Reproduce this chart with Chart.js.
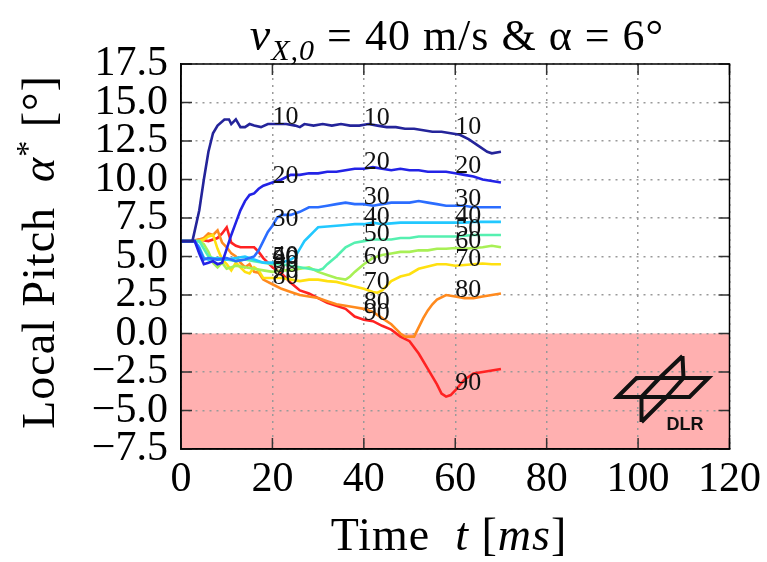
<!DOCTYPE html>
<html>
<head>
<meta charset="utf-8">
<script src="https://cdn.jsdelivr.net/npm/chart.js@4"></script>
<style>
  body { margin: 0; background: #fff; }
</style>
</head>
<body>
<canvas id="pitchChart" width="767" height="562"></canvas>
<script>
// local pitch traces per span position, time in ms
var t10 = [0, 2.5, 4, 5, 6, 7, 8, 9.5, 10.5, 11, 12, 13, 14, 15, 16, 17.5, 19, 21, 23, 25, 26, 27, 29, 31, 33, 35, 37, 39, 41, 43, 45, 47, 49, 51, 53, 55, 57, 59, 61, 63, 65, 67, 68, 70];
var a10 = [6, 6, 8, 10, 11.8, 13, 13.5, 13.9, 13.9, 13.6, 13.9, 13.4, 13.4, 13.6, 13.5, 13.4, 13.6, 13.6, 13.6, 13.5, 13.4, 13.6, 13.5, 13.6, 13.5, 13.6, 13.5, 13.5, 13.6, 13.5, 13.4, 13.4, 13.3, 13.3, 13.2, 13.1, 13.1, 13.0, 12.9, 12.6, 12.2, 11.8, 11.7, 11.8];

var t20 = [0, 3, 4, 5, 6, 7, 8, 9, 10, 11, 12, 13, 14, 15, 16, 17, 18, 20, 22, 24, 26, 28, 30, 32, 34, 36, 38, 40, 42, 44, 46, 48, 50, 52, 54, 56, 58, 60, 62, 64, 66, 68, 70];
var a20 = [6, 6, 5.2, 4.5, 4.6, 4.7, 4.5, 4.6, 5.5, 6.4, 7.2, 8.0, 8.6, 9.0, 9.1, 9.4, 9.6, 9.8, 10.0, 10.3, 10.3, 10.4, 10.4, 10.5, 10.5, 10.6, 10.7, 10.7, 10.8, 10.7, 10.6, 10.7, 10.6, 10.6, 10.5, 10.5, 10.5, 10.4, 10.3, 10.2, 10.0, 9.9, 9.8];

var t30 = [0, 3, 4, 5, 6, 8, 10, 12, 14, 16, 17, 18, 19, 20, 21, 22, 24, 26, 28, 30, 32, 34, 36, 38, 40, 42, 44, 46, 48, 50, 52, 54, 56, 58, 60, 62, 64, 66, 68, 70];
var a30 = [6, 6, 5.5, 4.8, 4.9, 4.8, 4.9, 4.7, 4.8, 5.0, 5.4, 6.0, 6.6, 7.0, 7.5, 7.7, 7.7, 7.9, 8.2, 8.2, 8.3, 8.4, 8.5, 8.4, 8.4, 8.3, 8.4, 8.5, 8.5, 8.5, 8.6, 8.5, 8.4, 8.3, 8.3, 8.3, 8.2, 8.2, 8.2, 8.2];

var t40 = [0, 3, 4, 5, 6, 8, 10, 12, 14, 16, 18, 20, 22, 24, 25, 26, 27, 28, 29, 30, 32, 34, 36, 38, 40, 42, 44, 46, 48, 50, 52, 54, 56, 58, 60, 62, 64, 66, 68, 70];
var a40 = [6, 6, 5.6, 4.9, 4.8, 4.9, 4.8, 4.9, 5.0, 4.8, 4.6, 4.6, 4.6, 4.8, 5.0, 5.5, 6.0, 6.3, 6.6, 6.9, 6.95, 7.0, 7.05, 7.1, 7.1, 7.2, 7.1, 7.15, 7.2, 7.2, 7.2, 7.2, 7.2, 7.2, 7.2, 7.2, 7.25, 7.25, 7.25, 7.25];

var t50 = [0, 4, 5, 6, 8, 10, 12, 14, 16, 18, 20, 22, 24, 26, 28, 30, 31, 32, 34, 36, 38, 40, 42, 44, 46, 48, 50, 52, 54, 56, 58, 60, 62, 64, 66, 68, 70];
var a50 = [6, 6, 5.5, 5.0, 4.8, 4.8, 4.7, 4.8, 4.7, 4.6, 4.5, 4.5, 4.4, 4.3, 4.2, 4.1, 4.2, 4.5, 5.0, 5.6, 5.9, 6.0, 6.1, 6.1, 6.1, 6.2, 6.2, 6.3, 6.3, 6.3, 6.3, 6.3, 6.35, 6.4, 6.4, 6.4, 6.4];

var t60 = [0, 4, 5, 6, 7, 8, 9, 10, 12, 14, 16, 18, 20, 22, 24, 26, 28, 30, 32, 34, 36, 37, 38, 40, 42, 44, 46, 48, 50, 52, 54, 56, 58, 60, 62, 64, 66, 68, 70];
var a60 = [6, 6, 5.8, 5.3, 4.6, 4.3, 4.6, 4.2, 4.4, 4.3, 4.2, 4.1, 4.0, 4.1, 4.1, 4.2, 4.3, 4.0, 3.8, 3.6, 3.5, 3.7, 4.0, 4.5, 4.9, 5.1, 5.2, 5.3, 5.3, 5.4, 5.4, 5.5, 5.5, 5.55, 5.5, 5.55, 5.6, 5.7, 5.6];

var t70 = [0, 4, 5, 6, 7, 8, 9, 10, 11, 12, 13, 14, 15, 16, 17, 18, 20, 22, 24, 26, 28, 30, 32, 34, 36, 38, 40, 42, 43, 44, 45, 46, 48, 50, 52, 54, 56, 58, 60, 62, 64, 66, 68, 70];
var a70 = [6, 6, 6.1, 6.3, 6.4, 5.5, 4.8, 4.5, 4.1, 4.6, 4.3, 4.0, 3.9, 4.3, 4.1, 3.6, 3.6, 3.6, 3.5, 3.4, 3.5, 3.5, 3.4, 3.35, 3.2, 3.05, 2.9, 2.7, 2.65, 2.8, 3.1, 3.4, 3.7, 3.85, 4.2, 4.35, 4.5, 4.5, 4.4, 4.45, 4.5, 4.55, 4.5, 4.5];

var t80 = [0, 3, 5, 6, 7, 8, 9, 10, 11, 12, 13, 14, 15, 16, 17, 18, 20, 22, 24, 26, 28, 30, 32, 34, 36, 38, 40, 42, 44, 46, 47, 48, 49, 50, 51, 52, 53, 54, 55, 56, 58, 60, 62, 64, 66, 68, 70];
var a80 = [6, 6, 6.2, 6.5, 6.4, 6.7, 5.9, 5.6, 5.2, 5.0, 4.6, 4.3, 4.5, 4.0, 3.95, 3.5, 3.2, 2.9, 2.7, 2.5, 2.4, 2.3, 2.1, 1.9, 1.8, 1.7, 1.6, 1.4, 1.0, 0.6, 0.3, 0.0, -0.2, -0.2, -0.2, 0.4, 1.0, 1.5, 1.9, 2.2, 2.5, 2.4, 2.3, 2.3, 2.4, 2.5, 2.6];

var t90 = [0, 2, 4, 6, 8, 9, 10, 11, 12, 13, 14, 15, 16, 17, 18, 19, 20, 22, 24, 26, 28, 30, 32, 34, 36, 38, 40, 42, 44, 46, 48, 50, 52, 54, 56, 57, 58, 59, 60, 62, 64, 66, 68, 70];
var a90 = [6, 6, 6.1, 6.0, 6.2, 6.5, 6.9, 5.9, 5.7, 5.6, 5.6, 5.6, 5.6, 5.3, 4.9, 4.6, 4.3, 3.9, 3.3, 2.8, 2.6, 2.3, 2.0, 1.8, 1.6, 1.1, 0.9, 0.8, 0.5, 0.25, -0.2, -0.5, -1.3, -2.3, -3.3, -3.9, -4.1, -4.0, -3.7, -3.0, -2.6, -2.5, -2.4, -2.3];

var seriesNames = ['10', '20', '30', '40', '50', '60', '70', '80', '90'];
var seriesTimes = [t10, t20, t30, t40, t50, t60, t70, t80, t90];
var seriesPitch = [a10, a20, a30, a40, a50, a60, a70, a80, a90];
var seriesColors = ['#24249a', '#2323e6', '#2b6dff', '#22c8ff', '#55f0b0', '#a8f055', '#ffe010', '#ff8a1e', '#ff2222'];
var labelTimes = [20, 40, 60];

var serif = '"Liberation Serif", "DejaVu Serif", serif';

var datasets = [];
for (var i = 0; i < seriesNames.length; i++) {
    var pts = [];
    for (var j = 0; j < seriesTimes[i].length; j++) {
        pts.push({ x: seriesTimes[i][j], y: seriesPitch[i][j] });
    }
    datasets.push({
        label: seriesNames[i],
        data: pts,
        borderColor: seriesColors[i],
        borderWidth: 2.6,
        pointRadius: 0,
        tension: 0,
        fill: false
    });
}

function valueAt(data, x) {
    for (var k = 1; k < data.length; k++) {
        if (data[k].x >= x) {
            var a = data[k - 1], b = data[k];
            return a.y + (b.y - a.y) * (x - a.x) / (b.x - a.x);
        }
    }
    return data[data.length - 1].y;
}

// pink band for negative pitch, under the grid
var negativeBand = {
    id: 'negativeBand',
    beforeDraw: function (chart) {
        var ctx = chart.ctx, area = chart.chartArea;
        var y0 = chart.scales.y.getPixelForValue(0);
        ctx.save();
        ctx.fillStyle = '#ffb0b0';
        ctx.fillRect(area.left, y0, area.right - area.left, area.bottom - y0);
        ctx.restore();
    }
};

// frame, inward ticks and the span labels on the curves
var frameAndLabels = {
    id: 'frameAndLabels',
    afterDatasetsDraw: function (chart) {
        var ctx = chart.ctx, area = chart.chartArea;
        var xs = chart.scales.x, ys = chart.scales.y;
        ctx.save();

        ctx.font = '26px ' + serif;
        ctx.fillStyle = '#111';
        ctx.textAlign = 'left';
        ctx.textBaseline = 'alphabetic';
        chart.data.datasets.forEach(function (ds) {
            labelTimes.forEach(function (lt) {
                var v = valueAt(ds.data, lt);
                ctx.fillText(ds.label, xs.getPixelForValue(lt), ys.getPixelForValue(v));
            });
        });

        ctx.strokeStyle = '#333';
        ctx.lineWidth = 1.5;
        ctx.beginPath();
        ys.ticks.forEach(function (tk) {
            var py = ys.getPixelForValue(tk.value);
            ctx.moveTo(area.left, py); ctx.lineTo(area.left + 11, py);
            ctx.moveTo(area.right, py); ctx.lineTo(area.right - 11, py);
        });
        xs.ticks.forEach(function (tk) {
            var px = xs.getPixelForValue(tk.value);
            ctx.moveTo(px, area.top); ctx.lineTo(px, area.top + 11);
            ctx.moveTo(px, area.bottom); ctx.lineTo(px, area.bottom - 11);
        });
        ctx.stroke();

        ctx.strokeStyle = '#000';
        ctx.lineWidth = 1.5;
        ctx.strokeRect(area.left, area.top, area.right - area.left, area.bottom - area.top);
        ctx.restore();
    }
};

function drawParts(ctx, parts, x, y) {
    parts.forEach(function (p) {
        ctx.font = p.font;
        ctx.fillText(p.text, x, y + (p.dy || 0));
        x += ctx.measureText(p.text).width;
    });
}

function partsWidth(ctx, parts) {
    var w = 0;
    parts.forEach(function (p) {
        ctx.font = p.font;
        w += ctx.measureText(p.text).width;
    });
    return w;
}

// title, axis titles and the DLR mark
var textAndLogo = {
    id: 'textAndLogo',
    afterDraw: function (chart) {
        var ctx = chart.ctx, area = chart.chartArea;
        ctx.save();
        ctx.fillStyle = '#000';
        ctx.textAlign = 'left';
        ctx.textBaseline = 'alphabetic';

        var titleParts = [
            { text: 'v', font: 'italic 46px ' + serif },
            { text: 'X,0', font: 'italic 30px ' + serif, dy: 10 },
            { text: ' = 40 m/s & α = 6°', font: '44px ' + serif }
        ];
        ctx.letterSpacing = '1px';
        var tw = partsWidth(ctx, titleParts);
        drawParts(ctx, titleParts, 457 - tw / 2, 50);

        var xParts = [
            { text: 'Time  ', font: '46px ' + serif },
            { text: 't', font: 'italic 46px ' + serif },
            { text: ' [', font: '46px ' + serif },
            { text: 'ms', font: 'italic 46px ' + serif },
            { text: ']', font: '46px ' + serif }
        ];
        var xw = partsWidth(ctx, xParts);
        drawParts(ctx, xParts, 449 - xw / 2, 550);

        var yParts = [
            { text: 'Local Pitch  ', font: '46px ' + serif },
            { text: 'α', font: 'italic 46px ' + serif },
            { text: '*', font: '32px ' + serif, dy: -16 },
            { text: ' [°]', font: '46px ' + serif }
        ];
        var yw = partsWidth(ctx, yParts);
        ctx.translate(54, 252);
        ctx.rotate(-Math.PI / 2);
        drawParts(ctx, yParts, -yw / 2, 0);
        ctx.restore();

        // DLR mark in the lower right corner
        var ox = area.right - 113, oy = area.bottom - 93;
        ctx.save();
        ctx.translate(ox, oy);
        ctx.strokeStyle = '#111';
        ctx.lineWidth = 4;
        ctx.beginPath();
        ctx.moveTo(1, 41); ctx.lineTo(20, 22); ctx.lineTo(92, 22); ctx.lineTo(73, 41); ctx.closePath();
        ctx.moveTo(43, 22); ctx.lineTo(25, 41);
        ctx.moveTo(67, 22); ctx.lineTo(50, 41);
        ctx.moveTo(66, 0); ctx.lineTo(67, 22);
        ctx.moveTo(66, 0); ctx.lineTo(43, 22);
        ctx.moveTo(25, 41); ctx.lineTo(25, 66);
        ctx.moveTo(25, 66); ctx.lineTo(50, 41);
        ctx.stroke();
        ctx.fillStyle = '#111';
        ctx.font = 'bold 18px "Liberation Sans", "DejaVu Sans", sans-serif';
        ctx.fillText('DLR', 50, 74);
        ctx.restore();
    }
};

function tickText(v) {
    var s = Math.abs(v).toFixed(1);
    return v < 0 ? '\u2212' + s : s;
}

new Chart(document.getElementById('pitchChart'), {
    type: 'line',
    data: { datasets: datasets },
    options: {
        responsive: false,
        animation: false,
        layout: { padding: { top: 64, right: 32, left: 0, bottom: 0 } },
        plugins: {
            legend: { display: false },
            title: { display: false },
            tooltip: { enabled: false }
        },
        scales: {
            x: {
                type: 'linear',
                min: 0,
                max: 120,
                afterFit: function (scale) { scale.height = 113; },
                ticks: {
                    stepSize: 20,
                    color: '#000',
                    padding: 6,
                    maxRotation: 0,
                    autoSkip: false,
                    font: { family: serif, size: 42 }
                },
                grid: { color: '#999', lineWidth: 1.5, drawTicks: false },
                border: { display: true, color: '#000', width: 1.5, dash: [2, 5] }
            },
            y: {
                type: 'linear',
                min: -7.5,
                max: 17.5,
                afterFit: function (scale) { scale.width = 181; },
                ticks: {
                    stepSize: 2.5,
                    color: '#000',
                    padding: 13,
                    autoSkip: false,
                    font: { family: serif, size: 42, lineHeight: 0.9 },
                    callback: function (v) { return tickText(v); }
                },
                grid: { color: '#999', lineWidth: 1.5, drawTicks: false },
                border: { display: true, color: '#000', width: 1.5, dash: [2, 5] }
            }
        }
    },
    plugins: [negativeBand, frameAndLabels, textAndLogo]
});
</script>
</body>
</html>
